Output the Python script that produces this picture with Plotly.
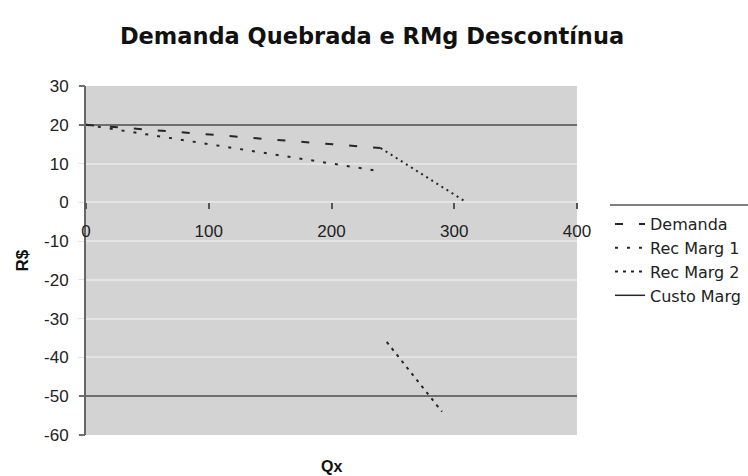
import plotly.graph_objects as go

# Data
demanda_q1 = [0, 240]
demanda_p1 = [20, 14]
demanda_q2 = [240, 310]
demanda_p2 = [14, 0]
recmarg1_q = [0, 240]
recmarg1_v = [20, 8]
recmarg2_q = [245, 290]
recmarg2_v = [-36, -54]
custo_q = [None]
custo_v = [None]

x_ticks = [0, 100, 200, 300, 400]
x_labels = ["0", "100", "200", "300", "400"]
y_ticks = [30, 20, 10, 0, -10, -20, -30, -40, -50, -60]
y_labels = ["30", "20", "10", "0", "-10", "-20", "-30", "-40", "-50", "-60"]
dark_grid = [30, 20, -50, -60]

FONT = "Liberation Sans, Arial, sans-serif"
WIDE = "DejaVu Sans, Verdana, sans-serif"
LINE = "#262626"

fig = go.Figure()
fig.add_trace(go.Scatter(x=demanda_q1, y=demanda_p1, mode="lines", name="Demanda",
                         legendgroup="dem",
                         line=dict(color=LINE, width=2, dash="8px,16px")))
fig.add_trace(go.Scatter(x=demanda_q2, y=demanda_p2, mode="lines", name="Demanda",
                         legendgroup="dem", showlegend=False,
                         line=dict(color=LINE, width=2, dash="2px,4px")))
fig.add_trace(go.Scatter(x=recmarg1_q, y=recmarg1_v, mode="lines", name="Rec Marg 1",
                         line=dict(color=LINE, width=2, dash="3px,9px")))
fig.add_trace(go.Scatter(x=recmarg2_q, y=recmarg2_v, mode="lines", name="Rec Marg 2",
                         line=dict(color=LINE, width=2, dash="3px,5px")))
fig.add_trace(go.Scatter(x=custo_q, y=custo_v, mode="lines", name="Custo Marg",
                         yaxis="y2", line=dict(color=LINE, width=1.5)))

fig.update_layout(
    width=748, height=476,
    margin=dict(l=86, r=171, t=86, b=41),
    paper_bgcolor="white",
    plot_bgcolor="#d3d3d3",
    font=dict(family=FONT, size=16, color="#222"),
    title=dict(text="<b>Demanda Quebrada e RMg Descontínua</b>",
               x=372 / 748, xref="container", xanchor="center",
               y=1 - 36 / 476, yref="container", yanchor="middle",
               font=dict(family=WIDE, size=22.5, color="#111")),
    xaxis=dict(range=[0, 400], tickvals=x_ticks, ticktext=x_labels,
               anchor="free", position=2 / 3,
               showline=False, showgrid=False, zeroline=False,
               ticks="outside", ticklen=6, tickcolor="#555", tickwidth=1.5,
               ticklabelstandoff=7,
               tickfont=dict(size=17, color="#222")),
    yaxis=dict(range=[-60, 30], tickvals=y_ticks, ticktext=y_labels,
               showline=True, linecolor="#666",
               linewidth=2, showgrid=True, gridcolor="#e4e4e4", gridwidth=1.5,
               zeroline=False, ticks="outside", ticklen=6, tickcolor="#e4e4e4",
               ticklabelstandoff=6,
               tickfont=dict(size=17, color="#222")),
    yaxis2=dict(range=[-60, 30], tickvals=dark_grid, overlaying="y", side="left",
                anchor="x", showticklabels=False, showgrid=True, gridcolor="#6e6e6e",
                gridwidth=2, zeroline=False, ticks="outside", ticklen=6,
                tickcolor="#6e6e6e", tickwidth=2, showline=False),
    legend=dict(x=610 / 748, xref="container", xanchor="left",
                y=1 - 207 / 476, yref="container", yanchor="top",
                bgcolor="rgba(0,0,0,0)", borderwidth=0,
                font=dict(family=WIDE, size=16, color="#222"),
                itemwidth=30, tracegroupgap=0),
    showlegend=True,
    shapes=[dict(type="line", xref="paper", yref="paper",
                 x0=(610 - 86) / 491, x1=(748 - 86) / 491,
                 y0=(435 - 205) / 349, y1=(435 - 205) / 349,
                 line=dict(color="#555", width=1.5))],
    annotations=[
        dict(text="<b>Qx</b>", x=0.5, xref="paper", y=(435 - 466) / 349, yref="paper",
             xanchor="center", yanchor="middle", showarrow=False,
             font=dict(family=FONT, size=16, color="#111")),
        dict(text="<b>R$</b>", x=(22 - 86) / 491, xref="paper", y=0.5, yref="paper",
             xanchor="center", yanchor="middle", showarrow=False, textangle=-90,
             font=dict(family=FONT, size=17, color="#111")),
    ],
)

fig.write_html("out.html", config={"displayModeBar": False},
               post_script="document.body.style.margin='0px';")
